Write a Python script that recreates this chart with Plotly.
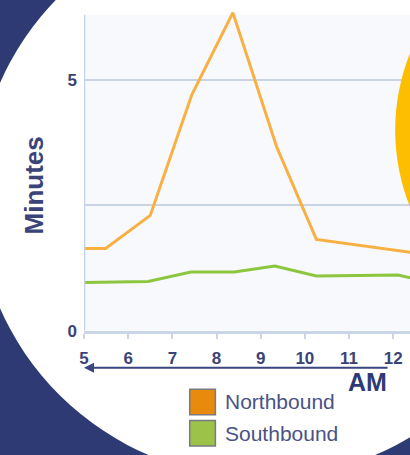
import plotly.graph_objects as go

W, H = 410, 455

# ---- data ----
series_names = ["Northbound", "Southbound"]
north_x = [5.0, 5.49, 6.5, 7.44, 8.37, 9.36, 10.26, 12.2, 12.4]
north_y = [1.64, 1.64, 2.30, 4.71, 6.35, 3.67, 1.82, 1.58, 1.56]
south_x = [5.0, 6.45, 7.42, 8.40, 9.32, 10.26, 12.11, 12.4]
south_y = [0.96, 0.98, 1.17, 1.17, 1.29, 1.09, 1.11, 1.05]
x_ticks = [5, 6, 7, 8, 9, 10, 11, 12]
y_ticks = [0, 2.5, 5]
y_ticktext = ["0", "", "5"]
axis_unit = "AM"
y_title = "Minutes"

NAVY = "#2e3a74"
TXT = "#3b4375"
GRID = "#c9d4e5"
line_colors = ["#f8b042", "#8cc63f"]
legend_colors = ["#e88a0c", "#9cc24a"]
FONT = "Liberation Sans, Arial"

def px(x):
    return x / W

def py(y):
    return 1 - y / H

x0_px, x5_px = 80, 393
ppx = (x5_px - x0_px) / 7.0
y0_px, ppy = 338, 51.2

xrange_ = [5, 5 + (W - x0_px) / ppx]
yrange_ = [0, y0_px / ppy]

fig = go.Figure()
fig.add_trace(go.Scatter(x=north_x, y=north_y, mode="lines", name=series_names[0],
                         line=dict(color=line_colors[0], width=3), showlegend=False))
fig.add_trace(go.Scatter(x=south_x, y=south_y, mode="lines", name=series_names[1],
                         line=dict(color=line_colors[1], width=3), showlegend=False))

shapes = [
    dict(type="circle", xref="paper", yref="paper", layer="below",
         x0=px(260 - 289), x1=px(260 + 289), y0=py(200 + 289), y1=py(200 - 289),
         fillcolor="white", line=dict(width=0)),
    dict(type="rect", xref="paper", yref="paper", layer="below",
         x0=px(x0_px), x1=1, y0=py(y0_px), y1=py(15),
         fillcolor="#f8f9fc", line=dict(width=0)),
    dict(type="line", xref="x", yref="y", layer="above",
         x0=5, x1=5, y0=0, y1=(y0_px - 15) / ppy,
         line=dict(color="#c5d2e6", width=2.5)),
    dict(type="circle", xref="paper", yref="paper", layer="above",
         x0=px(608 - 213), x1=px(608 + 213), y0=py(133 + 213), y1=py(133 - 213),
         fillcolor="#fdbd00", line=dict(width=0)),
]

leg_y = [411, 443]
for name, col, yc in zip(series_names, legend_colors, leg_y):
    shapes.append(dict(type="rect", xref="paper", yref="paper", layer="above",
                       x0=px(187), x1=px(213), y0=py(yc + 13), y1=py(yc - 13),
                       fillcolor=col, line=dict(color="#7a7a82", width=1.5)))

annotations = [
    dict(text="", xref="x", yref="paper", x=5, y=py(376), axref="pixel", ayref="pixel",
         ax=305, ay=0, showarrow=True, arrowhead=2, arrowsize=1, arrowwidth=2,
         arrowcolor="#3a4680"),
    dict(text="<b>" + axis_unit + "</b>", xref="paper", yref="paper", x=px(367), y=py(391),
         showarrow=False, xanchor="center", yanchor="middle",
         font=dict(family=FONT, size=25, color=NAVY)),
    dict(text="<b>" + y_title + "</b>", xref="paper", yref="paper", x=px(29), y=py(190),
         showarrow=False, textangle=-90, xanchor="center", yanchor="middle",
         font=dict(family=FONT, size=26, color="#3a4478")),
]
for name, yc in zip(series_names, leg_y):
    annotations.append(dict(text=name, xref="paper", yref="paper", x=px(221), y=py(yc),
                            showarrow=False, xanchor="left", yanchor="middle",
                            font=dict(family=FONT, size=21, color="#4a5284")))

fig.update_layout(
    width=W, height=H, margin=dict(l=0, r=0, t=0, b=0),
    paper_bgcolor=NAVY, plot_bgcolor="rgba(0,0,0,0)",
    showlegend=False,
    shapes=shapes, annotations=annotations,
    xaxis=dict(domain=[px(x0_px), 1], range=xrange_, tickvals=x_ticks,
               showgrid=False, zeroline=False, showline=True, linecolor="#c9d6e8", linewidth=3,
               ticks="outside", ticklen=5, tickwidth=2, tickcolor="#c9d6e8",
               ticklabelstandoff=5,
               tickfont=dict(family=FONT, size=17, color=TXT, weight="bold")),
    yaxis=dict(domain=[py(y0_px), 1], range=yrange_, tickvals=y_ticks, ticktext=y_ticktext,
               showgrid=True, gridcolor=GRID, gridwidth=2, zeroline=False, showline=False,
               ticks="", ticklabelstandoff=6,
               tickfont=dict(family=FONT, size=17, color=TXT, weight="bold")),
)

fig.write_html("out.html")
